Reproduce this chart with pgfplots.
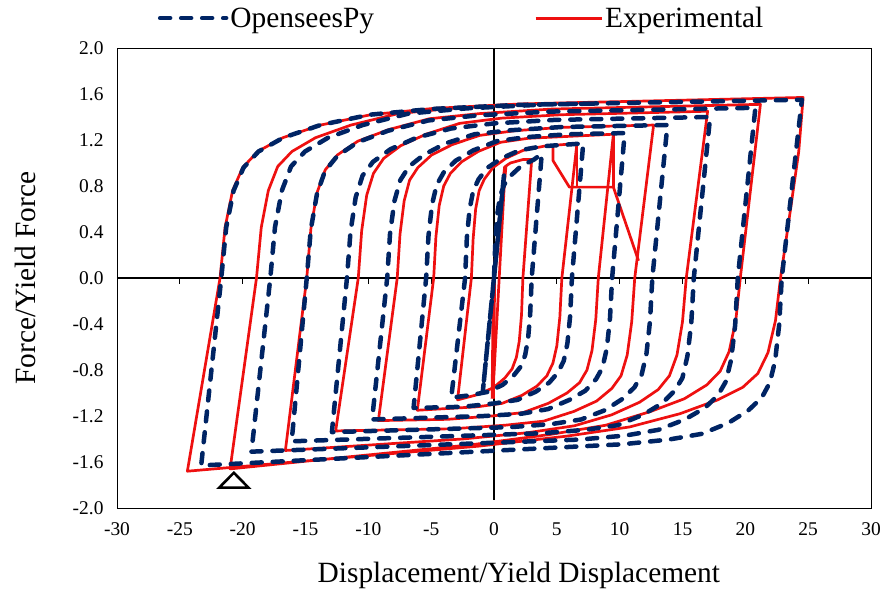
\documentclass[border=0pt]{standalone}
\usepackage{fontspec}
\setmainfont{Liberation Serif}
\usepackage{pgfplots}
\pgfplotsset{compat=1.18}
\definecolor{navy}{RGB}{0,36,100}
\definecolor{expred}{RGB}{238,16,16}
\begin{document}
\begin{tikzpicture}
\path[use as bounding box] (-117bp,-84bp) rectangle (771bp,508bp);
\begin{axis}[
  at={(0,0)}, anchor=south west,
  scale only axis, width=754bp, height=460bp,
  xmin=-30, xmax=30, ymin=-2, ymax=2,
  xtick={-30,-25,...,30},
  ytick={-2,-1.6,-1.2,-0.8,-0.4,0,0.4,0.8,1.2,1.6,2},
  major tick length=0pt,
  tick style={draw=none},
  /pgf/number format/assume math mode=true,
  yticklabel style={/pgf/number format/fixed, /pgf/number format/fixed zerofill, /pgf/number format/precision=1, xshift=-10bp},
  xticklabel style={yshift=-11bp},
  ticklabel style={font=\fontsize{19.5}{22}\selectfont},
  xlabel={Displacement/Yield Displacement},
  ylabel={Force/Yield Force},
  xlabel style={at={(axis description cs:0.533,-0.1457)}, anchor=center, font=\fontsize{29.5}{33}\selectfont},
  ylabel style={at={(axis description cs:-0.122,0.5)}, anchor=center, font=\fontsize{29.5}{33}\selectfont},
  axis line style={line width=0.8bp},
  legend style={at={(axis description cs:0.054,1.065)}, anchor=west, draw=none, fill=none,
    legend columns=2, font=\fontsize{29.5}{33}\selectfont, inner sep=0pt,
    /tikz/every even column/.append style={column sep=158bp}},
  legend image code/.code={\draw[#1] (0bp,0bp) -- (66bp,0bp);},
]
\addlegendimage{navy, line width=4.5bp, dash pattern=on 10bp off 11bp, line cap=round}
\addlegendentry{OpenseesPy}
\addlegendimage{expred, line width=3bp}
\addlegendentry{Experimental}

\draw[line width=1.6bp] (axis cs:-30,0) -- (axis cs:30,0);
\draw[line width=2.6bp] (axis cs:0,2) -- (axis cs:0,-1.93);
\pgfplotsinvokeforeach{-25,-20,-15,-10,-5,5,10,15,20,25}{\draw[line width=1bp] (axis cs:#1,0) -- (axis cs:#1,-0.055);}

% Experimental
\addplot[forget plot, expred, line width=2.7bp, line join=round] coordinates {
(0,0) (0.9,0.97) (-0.1,-1.03) (0.9,0.97) (1.3,1.0) (2.3,1.03) (3.0,1.03)
(2.3,0) (2.19,-0.32) (2.01,-0.55) (1.78,-0.69) (1.44,-0.79) (0.86,-0.87) (0.0,-0.95) (-1.16,-1.01) (-2.9,-1.06)
(-1.8,0) (-1.66,0.34) (-1.46,0.60) (-1.18,0.76) (-0.77,0.86) (-0.08,0.96) (0.94,1.04) (2.32,1.11) (4.03,1.147) (6.6,1.17)
(5.4,0) (5.24,-0.34) (5.0,-0.59) (4.69,-0.74) (4.21,-0.85) (3.42,-0.94) (2.23,-1.02) (0.65,-1.09) (-1.33,-1.12) (-6.1,-1.15)
(-4.8,0) (-4.62,0.36) (-4.36,0.63) (-4.0,0.80) (-3.47,0.91) (-2.58,1.01) (-1.26,1.10) (0.52,1.18) (2.73,1.215) (9.5,1.25)
(8.3,0) (8.1,-0.36) (7.8,-0.63) (7.4,-0.80) (6.81,-0.91) (5.81,-1.00) (4.32,-1.09) (2.32,-1.17) (-0.17,-1.20) (-3.7,-1.229) (-9.2,-1.24)
(-7.7,0) (-7.48,0.38) (-7.15,0.67) (-6.72,0.85) (-6.06,0.96) (-4.96,1.07) (-3.32,1.16) (-1.14,1.24) (1.6,1.28) (5.4,1.31) (12.7,1.33)
(11.2,0) (10.96,-0.38) (10.6,-0.67) (10.11,-0.85) (9.38,-0.96) (8.17,-1.07) (6.36,-1.16) (3.94,-1.245) (0.9,-1.28) (-3.3,-1.311) (-12.6,-1.33)
(-10.8,0) (-10.53,0.41) (-10.13,0.72) (-9.59,0.91) (-8.78,1.04) (-7.43,1.15) (-5.42,1.25) (-2.72,1.345) (0.6,1.39) (5.4,1.42) (17.0,1.45)
(15.3,0) (15.0,-0.38) (14.56,-0.67) (13.96,-0.85) (13.07,-0.97) (11.59,-1.08) (9.36,-1.19) (6.4,-1.285) (2.7,-1.345) (-2.5,-1.40) (-16.6,-1.50)
(-14.9,0) (-14.57,0.43) (-14.09,0.74) (-13.43,0.94) (-12.46,1.07) (-10.83,1.19) (-8.39,1.29) (-5.13,1.385) (-1.1,1.43) (4.6,1.469) (21.2,1.51)
(19.6,0) (19.24,-0.37) (18.71,-0.64) (18.0,-0.81) (16.93,-0.93) (15.15,-1.05) (12.48,-1.16) (8.9,-1.28) (4.5,-1.36) (-1.8,-1.45) (-12,-1.56) (-21.0,-1.66)
(-18.9,0) (-18.52,0.44) (-17.96,0.76) (-17.21,0.97) (-16.08,1.10) (-14.2,1.22) (-11.38,1.33) (-7.6,1.43) (-2.9,1.48) (3.7,1.518) (24.6,1.57)
(24.25,1.1) (23.6,0.6) (22.8,0) (22.4,-0.37) (21.8,-0.65) (21.0,-0.83) (19.8,-0.95) (17.8,-1.06) (14.8,-1.18) (10.8,-1.295) (5.8,-1.375) (-1.2,-1.462) (-12,-1.563) (-24.4,-1.68)
(-21.8,0) (-21.4,0.44) (-20.8,0.76) (-20.0,0.96) (-18.8,1.10) (-16.8,1.22) (-13.8,1.33) (-9.8,1.42) (-4.8,1.475) (2.2,1.514) (8,1.528)
};
\addplot[forget plot, expred, line width=2.7bp, line join=round] coordinates {(4.7,1.16) (4.7,1.02) (6.0,0.79) (9.5,0.79) (11.5,0.15)};
\addplot[forget plot, expred, line width=2.7bp] coordinates {(6.6,1.17) (6.6,0.79)};
\addplot[forget plot, expred, line width=2.7bp] coordinates {(9.5,1.25) (9.5,0.79)};
\addplot[forget plot, expred, line width=4bp] coordinates {(-0.1,-1.05) (0,0) (0.9,0.97)};

% OpenSeesPy
\addplot[forget plot, navy, line width=4.5bp, dash pattern=on 10bp off 11bp, line cap=round, line join=round] coordinates {
(0,0) (0.8,0.9) (-0.9,-1.0) (0.0,0.0) (0.11,0.32) (0.27,0.56) (0.48,0.71) (0.80,0.81) (1.33,0.89) (2.12,0.97) (3.18,1.03) (3.8,1.08)
(3.0,0) (2.88,-0.31) (2.71,-0.53) (2.48,-0.67) (2.13,-0.77) (1.55,-0.85) (0.68,-0.93) (-0.48,-0.99) (-1.93,-1.02) (-3.4,-1.04)
(-2.3,0) (-2.16,0.35) (-1.94,0.60) (-1.65,0.76) (-1.22,0.86) (-0.5,0.96) (0.58,1.04) (2.02,1.11) (3.82,1.145) (7.1,1.17)
(6.2,0) (6.06,-0.33) (5.84,-0.57) (5.55,-0.72) (5.11,-0.82) (4.39,-0.91) (3.3,-0.99) (1.86,-1.06) (0.05,-1.09) (-2.5,-1.12) (-6.4,-1.13)
(-5.4,0) (-5.21,0.37) (-4.93,0.64) (-4.56,0.81) (-3.99,0.92) (-3.05,1.02) (-1.65,1.11) (0.23,1.19) (2.57,1.225) (5.9,1.25) (10.4,1.26)
(9.4,0) (9.23,-0.35) (8.98,-0.61) (8.63,-0.78) (8.12,-0.88) (7.27,-0.98) (6.0,-1.06) (4.3,-1.14) (2.2,-1.18) (-0.8,-1.20) (-9.7,-1.23)
(-8.5,0) (-8.27,0.39) (-7.92,0.67) (-7.46,0.85) (-6.76,0.97) (-5.6,1.07) (-3.87,1.17) (-1.55,1.25) (1.34,1.285) (5.4,1.313) (13.8,1.33)
(12.6,0) (12.41,-0.38) (12.13,-0.66) (11.75,-0.84) (11.18,-0.95) (10.24,-1.05) (8.82,-1.15) (6.94,-1.23) (4.6,-1.27) (1.3,-1.297) (-12.9,-1.34)
(-11.7,0) (-11.42,0.40) (-11.01,0.70) (-10.46,0.89) (-9.63,1.01) (-8.24,1.12) (-6.17,1.22) (-3.41,1.30) (0.05,1.345) (4.9,1.375) (17.2,1.40)
(15.9,0) (15.7,-0.39) (15.39,-0.68) (14.99,-0.87) (14.38,-0.98) (13.37,-1.09) (11.85,-1.19) (9.83,-1.28) (7.3,-1.32) (3.8,-1.35) (-16.1,-1.42)
(-14.9,0) (-14.58,0.42) (-14.09,0.73) (-13.45,0.93) (-12.48,1.06) (-10.86,1.18) (-8.44,1.28) (-5.22,1.37) (-1.2,1.415) (4.5,1.447) (20.8,1.48)
(19.4,0) (19.19,-0.41) (18.87,-0.71) (18.45,-0.90) (17.82,-1.02) (16.77,-1.13) (15.19,-1.23) (13.09,-1.32) (10.46,-1.37) (6.8,-1.405) (-19.3,-1.51)
(-17.8,0) (-17.43,0.44) (-16.88,0.76) (-16.15,0.97) (-15.04,1.10) (-13.2,1.22) (-10.45,1.33) (-6.8,1.43) (-2.2,1.475) (4.3,1.51) (24.5,1.55)
(22.9,0) (22.69,-0.41) (22.37,-0.72) (21.95,-0.91) (21.31,-1.04) (20.25,-1.15) (18.66,-1.26) (16.54,-1.355) (13.9,-1.405) (10.2,-1.446) (-10,-1.557) (-23.3,-1.63)
(-21.7,0) (-21.31,0.44) (-20.72,0.76) (-19.93,0.96) (-18.74,1.10) (-16.77,1.22) (-13.82,1.33) (-9.88,1.42) (-4.95,1.47) (1.9,1.505) (8,1.517)
};

\addplot[forget plot, only marks, mark=triangle, mark size=17bp, mark options={yscale=0.58, line width=2.5bp, black}] coordinates {(-20.7,-1.78)};
\end{axis}
\end{tikzpicture}
\end{document}
